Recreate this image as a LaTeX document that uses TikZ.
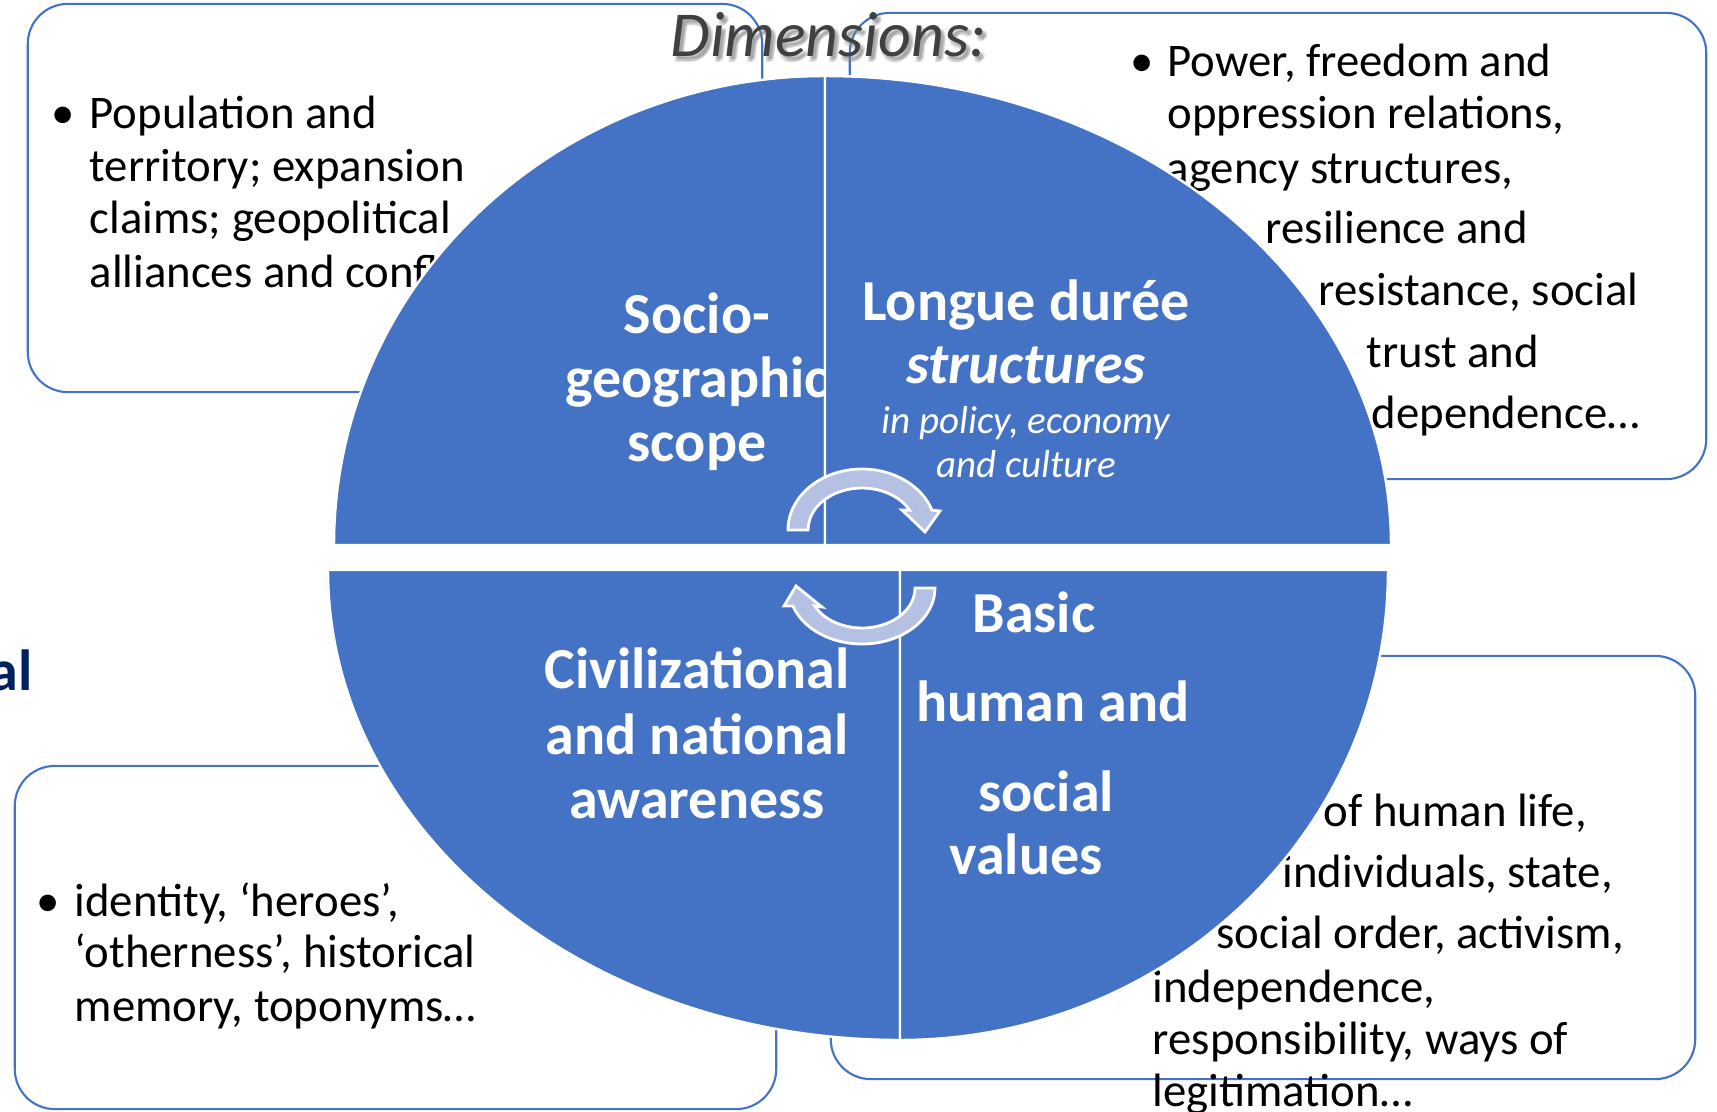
\documentclass[tikz,border=0pt]{standalone}
\usepackage{fontspec}
\setmainfont{Carlito}
\definecolor{quarterblue}{HTML}{4472C4}
\definecolor{cycleblue}{HTML}{B4C1E2}
\definecolor{navy}{HTML}{002060}

\begin{document}
\begin{tikzpicture}[x=0.01cm, y=-0.01cm,
	box/.style={draw=quarterblue, line width=0.6pt, rounded corners=4mm, fill=white},
	body/.style={anchor=base west, inner sep=0pt, font=\fontsize{13.3}{16}\selectfont},
	dot/.style={anchor=base, inner sep=0pt, font=\fontsize{13.3}{16}\selectfont},
	quarter/.style={fill=quarterblue, draw=white, line width=0.7pt},
	lbl/.style={anchor=base, inner sep=0pt, text=white, font=\fontsize{16.5}{19}\selectfont\bfseries},
	cyc/.style={fill=cycleblue, draw=white, line width=0.8pt},
	dimtxt/.style={anchor=base west, inner sep=0pt, font=\fontsize{18.2}{21}\selectfont\itshape}]
		\useasboundingbox (0,0) rectangle (1717,1112);
		\clip (0,0) rectangle (1717,1112);

		% boxes behind the circle
		\node[box, minimum width=7.34cm, minimum height=3.88cm] (popbox) at (395,198) {};
		\node[box, minimum width=8.56cm, minimum height=4.66cm] (powbox) at (1278,246) {};
		\node[box, minimum width=7.61cm, minimum height=3.43cm] (idbox) at (395.5,937.5) {};
		\node[box, minimum width=8.64cm, minimum height=4.23cm] (valbox) at (1263,867.5) {};

		\node[dot] (popdot) at (63,128) {•};
		\foreach \y/\t [count=\i] in {128/{Population and}, 182/{territory; expansion}, 233/{claims; geopolitical}, 287/{alliances and conflicts}}
			\node[body] (pop\i) at (89,\y) {\t};

		\node[dot] (powdot) at (1142,76) {•};
		\foreach \x/\y/\t [count=\i] in {1167/76/{Power, freedom and}, 1167/128/{oppression relations,}, 1166/183/{agency structures,}, 1265/243/{resilience and}, 1318/305/{resistance, social}, 1366/367/{trust and}, 1371/428/{dependence…}}
			\node[body] (pow\i) at (\x,\y) {\t};

		\node[dot] (iddot) at (48,916) {•};
		\foreach \y/\t [count=\i] in {916/{identity, ‘heroes’,}, 967/{‘otherness’, historical}, 1021/{memory, toponyms…}}
			\node[body] (id\i) at (74,\y) {\t};

		\foreach \x/\y/\t [count=\i] in {1323/826/{of human life,}, 1282/887/{individuals, state,}, 1216/948/{social order, activism,}, 1152/1002/{independence,}, 1152/1054/{responsibility, ways of}, 1152/1106/{legitimation…}}
			\node[body] (val\i) at (\x,\y) {\t};

		% the four quarters
		\filldraw[quarter] (825,545) -- (334,545) arc[start angle=180, end angle=270, x radius=491, y radius=469] -- cycle;
		\node[lbl] (geo1) at (697,333) {Socio-};
		\node[lbl] (geo2) at (697,397) {geographic};
		\node[lbl] (geo3) at (697,461) {scope};

		\filldraw[quarter] (825,545) -- (825,76) arc[start angle=270, end angle=360, x radius=566, y radius=469] -- cycle;
		\node[lbl] (lon1) at (1026,320) {Longue durée};
		\node[lbl] (lon2) at (1026,383) {\itshape structures};
		\node[lbl, font=\fontsize{11.1}{13}\selectfont\itshape] (lon3) at (1026,433) {in policy, economy};
		\node[lbl, font=\fontsize{11.1}{13}\selectfont\itshape] (lon4) at (1026,477) {and culture};

		\filldraw[quarter] (900,570) -- (328,570) arc[start angle=180, end angle=90, x radius=572, y radius=470] -- cycle;
		\node[lbl] (civ1) at (697,688) {Civilizational};
		\node[lbl] (civ2) at (697,754) {and national};
		\node[lbl] (civ3) at (697,818) {awareness};

		\filldraw[quarter] (900,570) -- (900,1040) arc[start angle=90, end angle=0, x radius=488, y radius=470] -- cycle;
		\node[lbl] (bas1) at (1034,632) {Basic};
		\node[lbl] (bas2) at (1053,721) {human and};
		\node[lbl] (bas3) at (1046,811) {social};
		\node[lbl] (bas4) at (1026,874) {values};

		% cycle arrows
		\filldraw[cyc] (788,530) arc[start angle=180, end angle=341, x radius=74, y radius=61]
			-- (940,511) -- (925,532) -- (902,510) -- (909.7,510.3)
			arc[start angle=332, end angle=180, x radius=54, y radius=42] -- cycle;
		\filldraw[cyc] (935,588) arc[start angle=0, end angle=161.3, x radius=73, y radius=56]
			-- (784,606) -- (796,586) -- (822,607) -- (814.7,606)
			arc[start angle=153.3, end angle=0, x radius=53, y radius=40] -- cycle;

		% title with soft shadow
		\foreach \dx/\dy [count=\i] in {4/4, 2/5, 5/2, 3/3}
			\node[dimtxt, text=black!50, opacity=0.25] (dimsh\i) at (670+\dx,57+\dy) {Dimensions:};
		\node[dimtxt, text=black!75] (dim) at (670,57) {Dimensions:};
		\node[anchor=base east, inner sep=0pt, text=navy, font=\fontsize{16.5}{19}\selectfont\bfseries] (al) at (33,690) {al};
	\end{tikzpicture}
\end{document}
